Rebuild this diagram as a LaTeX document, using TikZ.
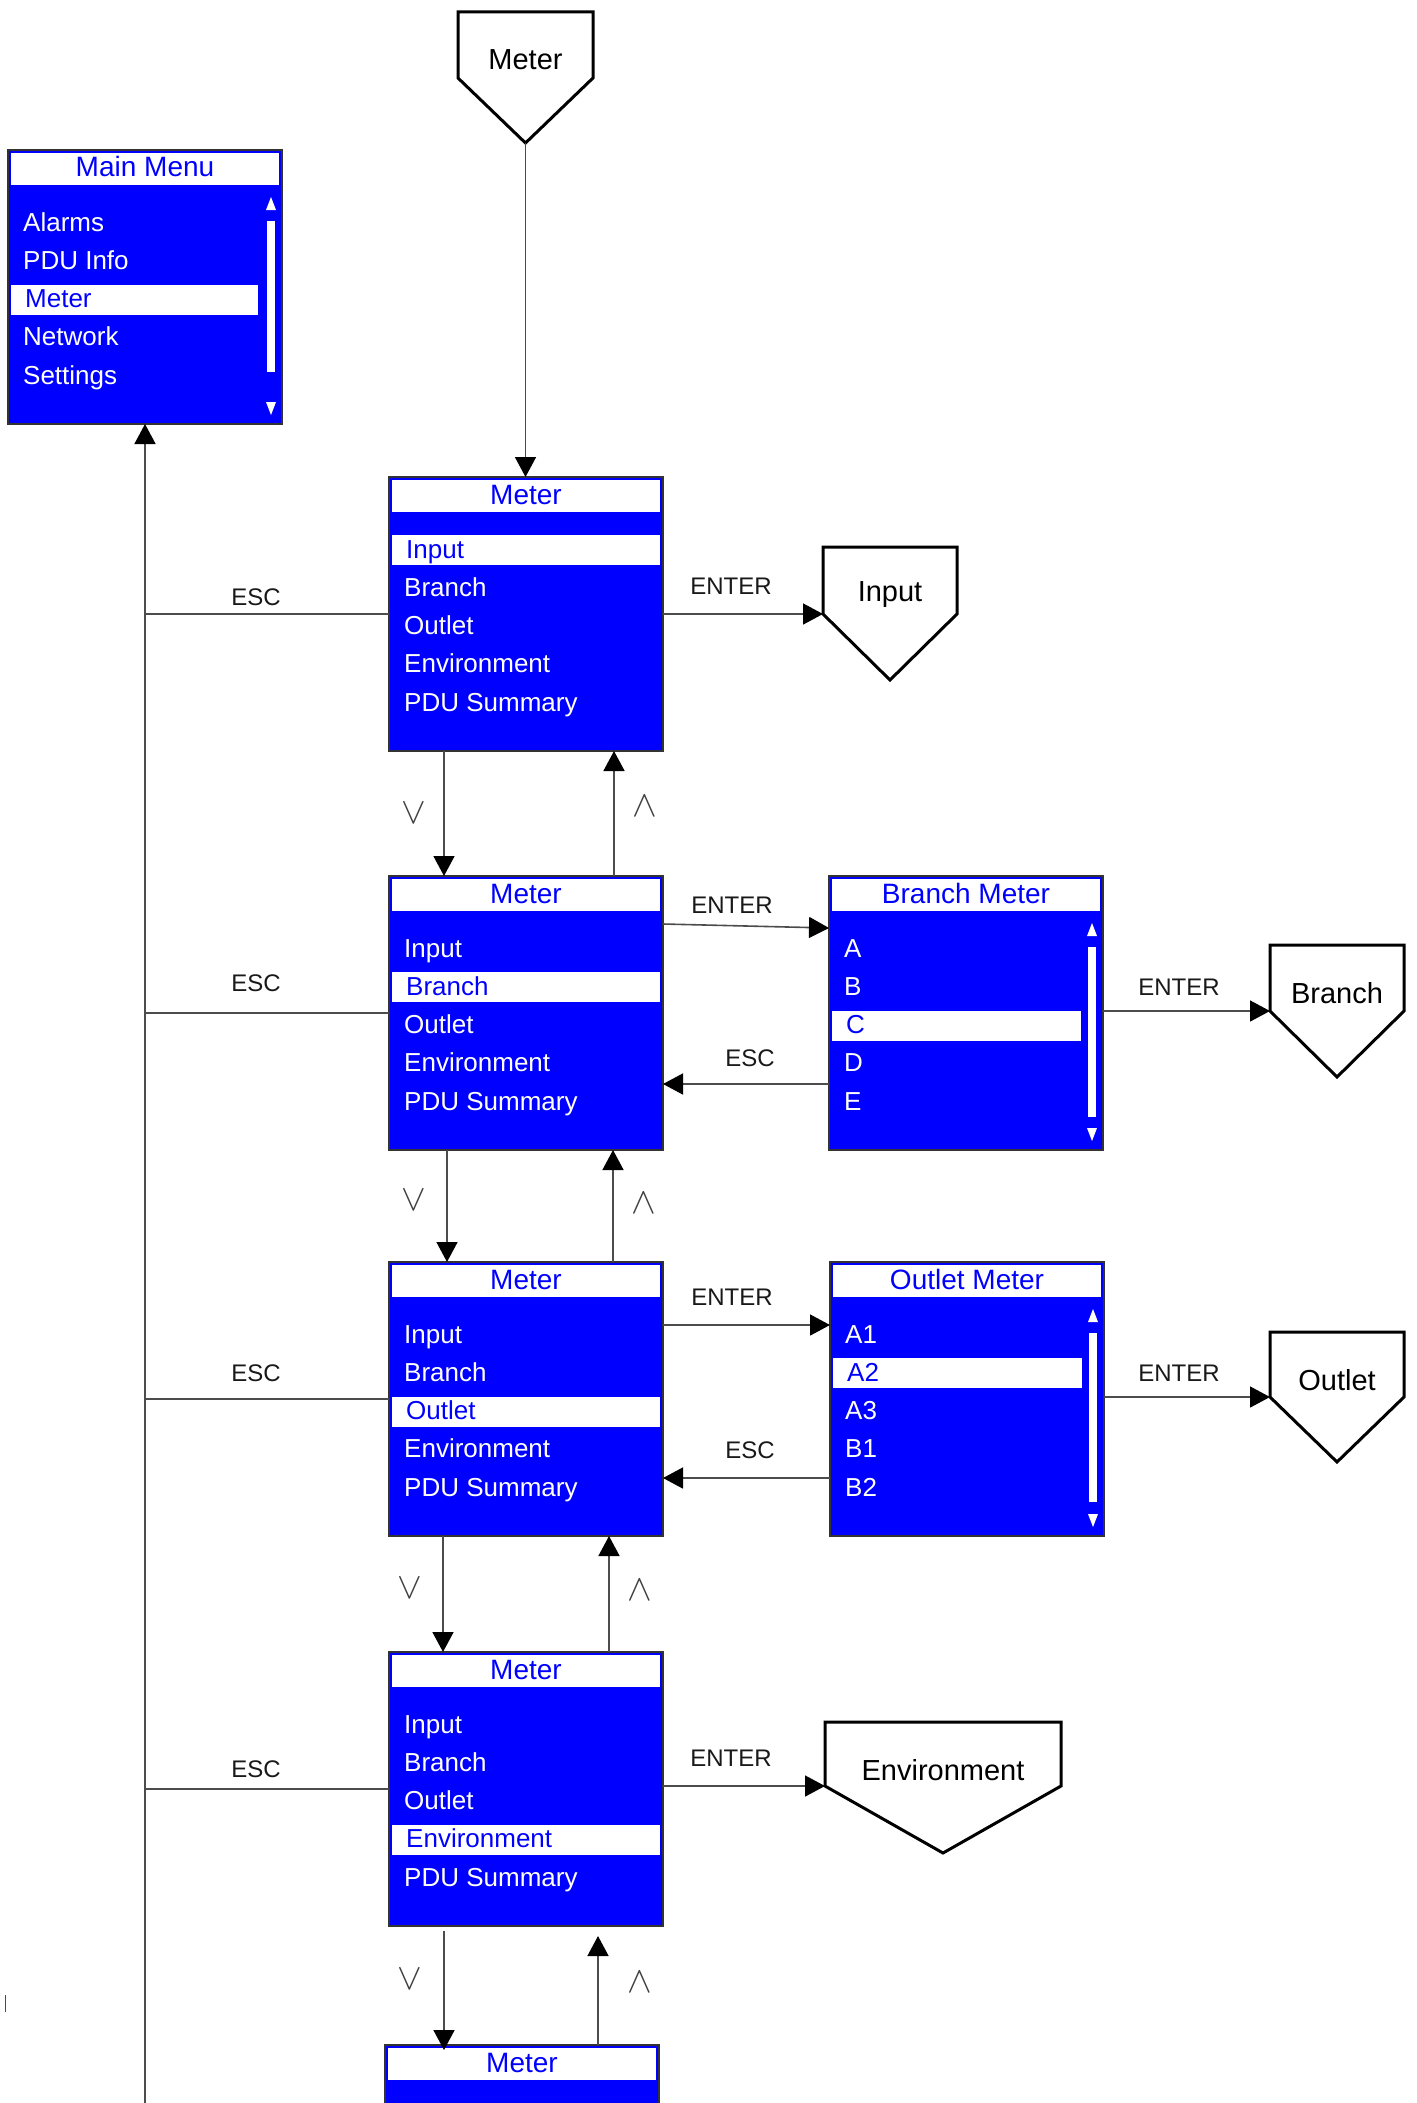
\documentclass[tikz,border=0pt]{standalone}
\usepackage{fontspec}
\usepackage{graphicx}
\setmainfont{Liberation Sans}
\usetikzlibrary{arrows.meta}
\definecolor{scrblue}{RGB}{0,0,255}
\newcommand{\chevdown}{\scalebox{3.7}{$\vee$}}
\newcommand{\chevup}{\scalebox{3.7}{$\wedge$}}
\tikzset{
  screenbox/.style={draw=black!80, line width=1.5pt, fill=scrblue, minimum width=274pt, minimum height=274pt, anchor=north west, inner sep=0pt, outer sep=0pt},
  ttl/.style={text=scrblue, font=\fontsize{28}{30}\selectfont, anchor=base, inner sep=0pt},
  rowtxt/.style={text=white, font=\fontsize{26}{28}\selectfont, anchor=base west, inner sep=0pt},
  hltxt/.style={rowtxt, text=scrblue},
  lbl/.style={font=\fontsize{24}{26}\selectfont, text=black!90, inner sep=0pt},
  symlbl/.style={text=black!75, inner sep=0pt},
  conn/.style={draw=black!70, line width=1.6pt},
  arr/.style={conn, -{Triangle[length=20pt,width=21pt,color=black]}},
  pent/.style={draw=black, line width=3pt, fill=white, line join=miter},
  penttxt/.style={font=\fontsize{29}{31}\selectfont, inner sep=0pt},
}
% frame of a screen: name, left, top, title
\newcommand{\screenframe}[4]{%
  \node[screenbox] (#1) at (#2,#3) {};
  \fill[white] ({#2+3},{#3+3}) rectangle ({#2+271},{#3+35});
  \node[ttl] (#1-t) at ({#2+137},{#3+27}) {#4};
}
% rows: name, left, top, rows, highlight index, highlight right offset
\newcommand{\screenrows}[6]{%
  \foreach \rt [count=\ri] in {#4} {
    \ifnum\ri=#5
      \fill[white] ({#2+3},{#3+81+38.3*(\ri-1)-23}) rectangle ({#2+#6},{#3+81+38.3*(\ri-1)+7});
      \node[hltxt] (#1-r\ri) at ({#2+17},{#3+81+38.3*(\ri-1)}) {\rt};
    \else
      \node[rowtxt] (#1-r\ri) at ({#2+15},{#3+81+38.3*(\ri-1)}) {\rt};
    \fi
  }
}
% scrollbar: left, top, bar bottom offset
\newcommand{\scrollbar}[3]{%
  \fill[white] ({#1+259},{#2+71}) rectangle ({#1+267},{#2+#3});
  \fill[white] ({#1+263},{#2+47}) -- ({#1+268},{#2+60}) -- ({#1+258},{#2+60}) -- cycle;
  \fill[white] ({#1+263},{#2+265}) -- ({#1+268},{#2+252}) -- ({#1+258},{#2+252}) -- cycle;
}
% pentagon: name, left, right, top, shoulder, bottom, text
\newcommand{\pentagon}[7]{%
  \draw[pent] (#2,#4) -- (#3,#4) -- (#3,#5) -- ({(#2+#3)/2},#6) -- (#2,#5) -- cycle;
  \node[penttxt] (#1) at ({(#2+#3)/2},{#4+48}) {#7};
  \coordinate (#1-w) at (#2,#5);
  \coordinate (#1-s) at ({(#2+#3)/2},#6);
}
\begin{document}
\begin{tikzpicture}[x=1pt,y=-1pt]
\useasboundingbox (0,0) rectangle (1416,2103);
\clip (0,0) rectangle (1416,2103);

% main menu
\screenframe{mm}{8}{150}{Main Menu}
\screenrows{mm}{8}{150}{Alarms,PDU Info,Meter,Network,Settings}{3}{250}
\scrollbar{8}{150}{222}

% meter screens
\screenframe{m1}{389}{477}{Meter}
\screenrows{m1}{389}{477}{Input,Branch,Outlet,Environment,PDU Summary}{1}{271}
\screenframe{m2}{389}{876}{Meter}
\screenrows{m2}{389}{876}{Input,Branch,Outlet,Environment,PDU Summary}{2}{271}
\screenframe{m3}{389}{1262}{Meter}
\screenrows{m3}{389}{1262}{Input,Branch,Outlet,Environment,PDU Summary}{3}{271}
\screenframe{m4}{389}{1652}{Meter}
\screenrows{m4}{389}{1652}{Input,Branch,Outlet,Environment,PDU Summary}{4}{271}
\screenframe{m5}{385}{2045}{Meter}

% sub screens
\screenframe{bm}{829}{876}{Branch Meter}
\screenrows{bm}{829}{876}{A,B,C,D,E}{3}{252}
\scrollbar{829}{876}{241}
\screenframe{om}{830}{1262}{Outlet Meter}
\screenrows{om}{830}{1262}{A1,A2,A3,B1,B2}{2}{252}
\scrollbar{830}{1262}{240}

% off-page connectors
\pentagon{ptop}{458}{593}{12}{78}{143}{Meter}
\pentagon{pin}{823}{957}{547}{614}{680}{Input}
\pentagon{pbr}{1270}{1404}{945}{1011}{1077}{Branch}
\pentagon{pout}{1270}{1404}{1332}{1397}{1462}{Outlet}
\pentagon{penv}{825}{1061}{1722}{1786}{1853}{Environment}

% top entry
\draw[arr] (ptop-s) -- (ptop-s |- m1.north);

% ESC trunk to main menu
\coordinate (trunkend) at (145,2110);
\draw[arr] (trunkend) -- (mm.south);
\foreach \m in {m1,m2,m3,m4} { \draw[conn] (\m.west) -- (\m.west -| mm.south); }
\node[lbl] (esc1) at (256,597) {ESC};
\node[lbl] (esc2) at (256,983) {ESC};
\node[lbl] (esc3) at (256,1373) {ESC};
\node[lbl] (esc4) at (256,1769) {ESC};

% ENTER arrows
\draw[arr] (m1.east |- pin-w) -- (pin-w);
\node[lbl] (ent1) at (731,586) {ENTER};
\draw[arr] ([yshift=89pt]m2.east) -- ([yshift=85pt]bm.west);
\node[lbl] (ent2) at (732,905) {ENTER};
\draw[arr] ([yshift=-71pt]bm.west) -- ([yshift=-71pt]m2.east);
\node[lbl] (escb) at (750,1058) {ESC};
\draw[arr] (bm.east |- pbr-w) -- (pbr-w);
\node[lbl] (ent3) at (1179,987) {ENTER};

\draw[arr] ([yshift=74pt]m3.east) -- ([yshift=74pt]om.west);
\node[lbl] (ent4) at (732,1297) {ENTER};
\draw[arr] ([yshift=-79pt]om.west) -- ([yshift=-79pt]m3.east);
\node[lbl] (esco) at (750,1450) {ESC};
\draw[arr] (om.east |- pout-w) -- (pout-w);
\node[lbl] (ent5) at (1179,1373) {ENTER};

\draw[arr] (m4.east |- penv-w) -- (penv-w);
\node[lbl] (ent6) at (731,1758) {ENTER};

% up / down arrows between meter screens
\draw[arr] ([xshift=-82pt]m1.south) -- ([xshift=-82pt]m1.south |- m2.north);
\draw[arr] ([xshift=88pt]m2.north) -- ([xshift=88pt]m2.north |- m1.south);
\node[symlbl] (dn1) at (414,813) {\chevdown};
\node[symlbl] (up1) at (645,806) {\chevup};

\draw[arr] ([xshift=-79pt]m2.south) -- ([xshift=-79pt]m2.south |- m3.north);
\draw[arr] ([xshift=87pt]m3.north) -- ([xshift=87pt]m3.north |- m2.south);
\node[symlbl] (dn2) at (414,1200) {\chevdown};
\node[symlbl] (up2) at (644,1203) {\chevup};

\draw[arr] ([xshift=-83pt]m3.south) -- ([xshift=-83pt]m3.south |- m4.north);
\draw[arr] ([xshift=83pt]m4.north) -- ([xshift=83pt]m4.north |- m3.south);
\node[symlbl] (dn3) at (410,1588) {\chevdown};
\node[symlbl] (up3) at (640,1590) {\chevup};

\draw[arr] ([xshift=-82pt,yshift=-5pt]m4.south) -- ([xshift=-82pt,yshift=-5pt]m4.south |- m5.north);
\draw[arr] ([xshift=76pt]m5.north) -- ([xshift=76pt,yshift=-10pt]m5.north |- m4.south);
\node[symlbl] (dn4) at (410,1979) {\chevdown};
\node[symlbl] (up4) at (640,1982) {\chevup};

% stray tick at left margin
\draw[black!70, line width=1pt] (5,1995) -- (5,2012);
\end{tikzpicture}
\end{document}
